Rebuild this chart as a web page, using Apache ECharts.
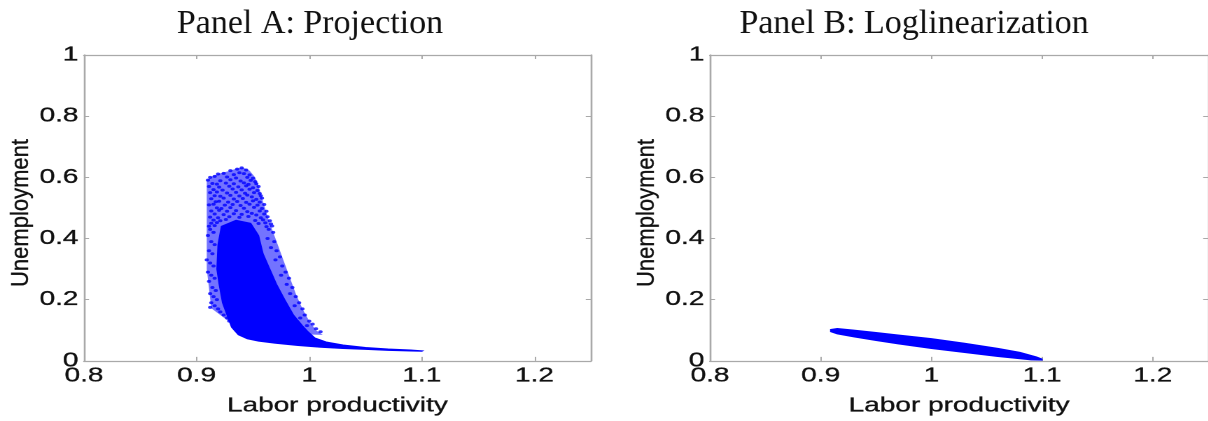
<!DOCTYPE html>
<html>
<head>
<meta charset="utf-8">
<script src="https://cdn.jsdelivr.net/npm/echarts@6/dist/echarts.min.js"></script>
<style>
  html, body { margin: 0; padding: 0; background: #ffffff; overflow: hidden; width: 1208px; height: 421px; }
  /* The figure is drawn on a narrower canvas and widened, as in the printed original */
  #chart { width: 863px; height: 421px; transform: scaleX(1.4); transform-origin: 0 0; }
</style>
</head>
<body>
<div id="chart"></div>
<script>
// ---- axes ----
const xTicks = [0.8, 0.9, 1.0, 1.1, 1.2];
const yTicks = [0, 0.2, 0.4, 0.6, 0.8, 1];
const xRange = [0.8, 1.25];
const yRange = [0, 1];
const panelTitles = ['Panel A: Projection', 'Panel B: Loglinearization'];
const xName = 'Labor productivity';
const yName = 'Unemployment';

// ---- Panel A: projection solution, dense body of the simulated cloud ----
const projCoreX = [0.922, 0.919, 0.918, 0.920, 0.923, 0.927, 0.931, 0.937, 0.945, 0.955, 0.970, 0.990, 1.010, 1.030, 1.050, 1.070, 1.090, 1.100,
                   1.101, 1.090, 1.070, 1.050, 1.030, 1.015, 1.005, 0.999, 0.994, 0.986, 0.979, 0.971, 0.965, 0.959, 0.955, 0.948, 0.935];
const projCoreY = [0.440, 0.380, 0.300, 0.250, 0.190, 0.150, 0.110, 0.085, 0.072, 0.064, 0.057, 0.050, 0.044, 0.040, 0.037, 0.034, 0.032, 0.031,
                   0.033, 0.036, 0.039, 0.044, 0.052, 0.062, 0.075, 0.095, 0.115, 0.150, 0.195, 0.250, 0.300, 0.350, 0.410, 0.450, 0.460];

// sparser outer part of the cloud
const projFringeX = [0.909, 0.913, 0.920, 0.928, 0.935, 0.941, 0.947, 0.952, 0.956, 0.959, 0.964, 0.970, 0.976, 0.982, 0.988, 0.994, 1.000, 1.006, 1.012,
                     0.960, 0.930, 0.921, 0.913, 0.909];
const projFringeY = [0.590, 0.602, 0.612, 0.620, 0.628, 0.632, 0.622, 0.600, 0.560, 0.520, 0.460, 0.400, 0.340, 0.280, 0.220, 0.170, 0.130, 0.100, 0.085,
                     0.090, 0.125, 0.150, 0.172, 0.300];

// individual scattered draws around the edges of the cloud
const projDots = [
  [0.930, 0.622], [0.936, 0.627], [0.940, 0.631], [0.944, 0.624],
  [0.919, 0.611], [0.924, 0.613], [0.933, 0.609], [0.938, 0.615], [0.942, 0.612], [0.947, 0.608],
  [0.912, 0.600], [0.916, 0.603], [0.927, 0.601], [0.935, 0.598], [0.945, 0.600], [0.950, 0.597],
  [0.910, 0.591], [0.921, 0.589], [0.930, 0.592], [0.939, 0.588], [0.948, 0.590], [0.952, 0.586],
  [0.914, 0.580], [0.918, 0.578], [0.926, 0.581], [0.933, 0.579], [0.942, 0.582], [0.946, 0.577], [0.953, 0.579],
  [0.911, 0.570], [0.920, 0.568], [0.929, 0.571], [0.937, 0.569], [0.944, 0.572], [0.950, 0.566], [0.955, 0.570],
  [0.915, 0.560], [0.923, 0.558], [0.932, 0.562], [0.940, 0.559], [0.947, 0.561], [0.954, 0.557],
  [0.912, 0.550], [0.918, 0.552], [0.927, 0.549], [0.935, 0.551], [0.943, 0.548], [0.951, 0.550], [0.956, 0.547],
  [0.916, 0.540], [0.921, 0.538], [0.930, 0.541], [0.938, 0.539], [0.945, 0.542], [0.949, 0.536], [0.957, 0.540],
  [0.913, 0.530], [0.924, 0.532], [0.933, 0.529], [0.941, 0.531], [0.953, 0.528], [0.958, 0.532],
  [0.917, 0.520], [0.920, 0.522], [0.928, 0.519], [0.936, 0.521], [0.944, 0.518], [0.950, 0.523], [0.956, 0.519],
  [0.911, 0.510], [0.915, 0.512], [0.925, 0.509], [0.932, 0.511], [0.939, 0.508], [0.947, 0.512], [0.954, 0.509], [0.960, 0.511],
  [0.918, 0.500], [0.922, 0.498], [0.930, 0.501], [0.942, 0.499], [0.951, 0.502], [0.958, 0.498],
  [0.913, 0.490], [0.920, 0.492], [0.927, 0.489], [0.935, 0.491], [0.945, 0.488], [0.956, 0.490], [0.962, 0.489],
  [0.916, 0.480], [0.924, 0.478], [0.933, 0.481], [0.940, 0.479], [0.949, 0.482], [0.953, 0.477], [0.960, 0.480],
  [0.912, 0.470], [0.919, 0.468], [0.929, 0.471], [0.938, 0.469], [0.946, 0.472], [0.957, 0.468], [0.963, 0.471],
  [0.915, 0.460], [0.921, 0.458], [0.926, 0.462], [0.952, 0.459], [0.959, 0.461], [0.965, 0.458],
  [0.913, 0.450], [0.918, 0.452], [0.955, 0.449], [0.961, 0.451], [0.966, 0.448],
  [0.911, 0.440], [0.916, 0.442], [0.962, 0.439], [0.967, 0.441],
  [0.964, 0.430], [0.968, 0.420], [0.963, 0.400], [0.969, 0.390], [0.966, 0.370], [0.971, 0.360], [0.974, 0.340],
  [0.970, 0.330], [0.976, 0.310], [0.979, 0.290], [0.975, 0.280], [0.982, 0.270], [0.980, 0.250], [0.985, 0.240],
  [0.983, 0.220], [0.988, 0.210], [0.991, 0.190], [0.987, 0.180], [0.994, 0.170], [0.996, 0.150], [0.992, 0.140],
  [1.000, 0.130], [1.003, 0.120], [0.998, 0.115], [1.006, 0.105], [1.010, 0.095],
  [0.912, 0.430], [0.915, 0.420], [0.910, 0.410], [0.913, 0.390], [0.916, 0.380], [0.911, 0.360], [0.914, 0.350],
  [0.909, 0.330], [0.912, 0.320], [0.915, 0.310], [0.910, 0.290], [0.913, 0.280], [0.916, 0.270], [0.911, 0.260],
  [0.914, 0.240], [0.917, 0.230], [0.912, 0.220], [0.915, 0.210], [0.918, 0.200], [0.913, 0.190], [0.916, 0.180],
  [0.912, 0.175], [0.919, 0.170], [0.921, 0.160], [0.924, 0.150], [0.927, 0.140], [0.929, 0.130]
];

// ---- Panel B: loglinear solution, a thin downward band ----
const logBandX = [0.909, 0.915, 0.930, 0.950, 0.970, 1.000, 1.030, 1.060, 1.080, 1.095, 1.100,
                  1.100, 1.090, 1.060, 1.030, 1.000, 0.970, 0.950, 0.930, 0.915, 0.909];
const logBandY = [0.103, 0.106, 0.101, 0.093, 0.085, 0.073, 0.058, 0.041, 0.028, 0.013, 0.006,
                  0.002, 0.003, 0.014, 0.027, 0.040, 0.055, 0.066, 0.078, 0.088, 0.095];

const K = 1.4;          // horizontal widening of the canvas
const BLUE = '#0000ff';
const AXIS = '#a9a9a9';
const INK = '#111111';
const grids = [
  { left: 60, top: 55, width: 362, height: 316 },
  { left: 507.1, top: 55, width: 362, height: 316 }
];

const zip = (xs, ys) => xs.map((x, i) => [x, ys[i]]);
const labelStyle = { color: INK, fontFamily: 'Liberation Sans', fontSize: 20, textBorderColor: INK, textBorderWidth: 0.3 };

function xAxes(gi) {
  const common = {
    type: 'value', gridIndex: gi, min: xRange[0], max: xRange[1],
    axisLine: { show: true, onZero: false, lineStyle: { color: AXIS, width: 1.3 } },
    axisTick: { show: true, inside: true, length: 4, customValues: xTicks, lineStyle: { color: AXIS, width: 1 } },
    splitLine: { show: false }
  };
  return [
    Object.assign({}, common, {
      position: 'bottom',
      axisLabel: Object.assign({ customValues: xTicks, margin: 5, formatter: v => String(+v.toFixed(2)) }, labelStyle),
      name: xName, nameLocation: 'middle', nameGap: 35,
      nameTextStyle: Object.assign({}, labelStyle)
    }),
    Object.assign({}, common, { position: 'top', axisLabel: { show: false } })
  ];
}

function yAxes(gi) {
  const common = {
    type: 'value', gridIndex: gi, min: yRange[0], max: yRange[1],
    axisLine: { show: true, onZero: false, lineStyle: { color: AXIS, width: 1.3 } },
    axisTick: { show: true, inside: true, length: 3.6, customValues: yTicks, lineStyle: { color: AXIS, width: 1 } },
    splitLine: { show: false }
  };
  return [
    Object.assign({}, common, {
      position: 'left',
      axisLabel: Object.assign({ customValues: yTicks, margin: 4, formatter: v => String(+v.toFixed(2)) }, labelStyle)
    }),
    Object.assign({}, common, { position: 'right', axisLabel: { show: false } })
  ];
}

function polygonSeries(gi, pts, style, z) {
  return {
    type: 'custom', xAxisIndex: gi * 2, yAxisIndex: gi * 2, data: pts, z: z,
    silent: true, animation: false,
    renderItem(params, api) {
      if (params.dataIndex !== 0) return;
      return { type: 'polygon', shape: { points: pts.map(p => api.coord(p)) }, style: style };
    }
  };
}

// titles and rotated axis names are not widened: counter-scale them
function titleText(cx, text) {
  return { type: 'text', x: cx, y: 24, scaleX: 1 / K, silent: true,
           style: { text: text, fill: '#111', font: '34px "Liberation Serif"', textAlign: 'center', textVerticalAlign: 'middle' } };
}
function yNameText(cx) {
  return { type: 'text', x: cx, y: 213, rotation: Math.PI / 2, scaleY: 0.8, silent: true,
           style: { text: yName, fill: INK, stroke: INK, lineWidth: 0.3, font: '22px "Liberation Sans"', textAlign: 'center', textVerticalAlign: 'middle' } };
}

const chart = echarts.init(document.getElementById('chart'), null, { renderer: 'canvas', devicePixelRatio: 2 });
chart.setOption({
  animation: false,
  backgroundColor: '#ffffff',
  grid: grids,
  xAxis: [...xAxes(0), ...xAxes(1)],
  yAxis: [...yAxes(0), ...yAxes(1)],
  graphic: [
    titleText(221.4, panelTitles[0]),
    titleText(652.9, panelTitles[1]),
    yNameText(15),
    yNameText(462.1)
  ],
  series: [
    polygonSeries(0, zip(projFringeX, projFringeY), { fill: 'rgba(0,0,255,0.55)', stroke: null }, 1),
    polygonSeries(0, zip(projCoreX, projCoreY), { fill: BLUE, stroke: BLUE, lineWidth: 0.8 }, 2),
    {
      type: 'scatter', xAxisIndex: 0, yAxisIndex: 0, data: projDots, z: 3,
      symbol: 'circle', symbolSize: 3, itemStyle: { color: BLUE }, silent: true, animation: false
    },
    polygonSeries(1, zip(logBandX, logBandY), { fill: BLUE, stroke: BLUE, lineWidth: 0.8 }, 2)
  ]
});
</script>
</body>
</html>
